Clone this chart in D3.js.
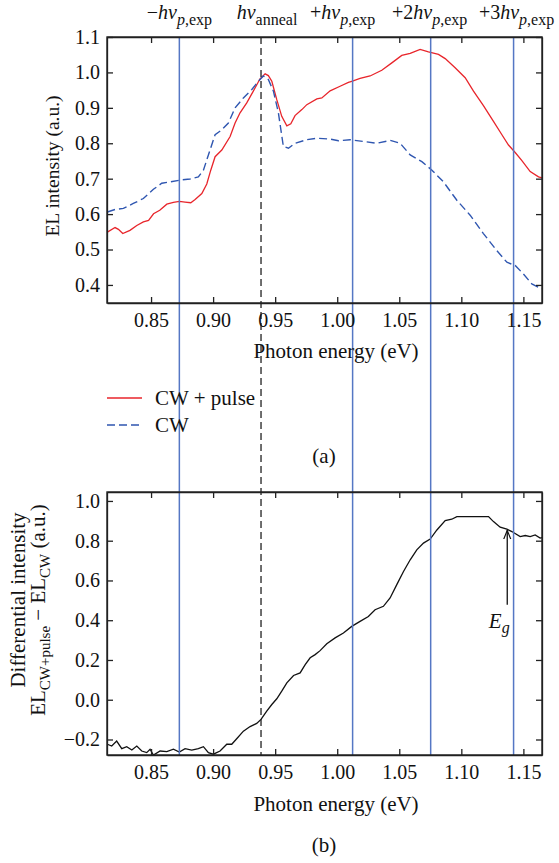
<!DOCTYPE html>
<html lang="en">
<head>
<meta charset="UTF-8">
<title>EL spectra</title>
<script src="https://d3js.org/d3.v7.min.js"></script>
<style>
  body { margin: 0; background: #fff; }
  svg text { font-family: "Liberation Serif", "DejaVu Serif", serif; fill: #111; }
  .axis path, .axis line { stroke: #222; stroke-width: 1.3px; }
  .axis text { font-size: 20px; font-family: "Liberation Serif", serif; fill: #111; }
</style>
</head>
<body>
<div id="chart"></div>
<script>
// photon energy (eV) and EL intensity
const pulseE = [0.8148, 0.821, 0.8237, 0.8272, 0.833, 0.8385, 0.8438, 0.848, 0.852, 0.857, 0.8627, 0.868, 0.8728, 0.8774, 0.882, 0.8855, 0.8909, 0.8949, 0.8981, 0.9016, 0.907, 0.9137, 0.9177, 0.9217, 0.9271, 0.9324, 0.9378, 0.9419, 0.9445, 0.9473, 0.9513, 0.9553, 0.9594, 0.9626, 0.966, 0.9715, 0.9755, 0.9836, 0.9876, 0.9943, 1.0023, 1.009, 1.0117, 1.0184, 1.0265, 1.0359, 1.044, 1.052, 1.0588, 1.0668, 1.0735, 1.0816, 1.087, 1.095, 1.1031, 1.1098, 1.1178, 1.1259, 1.1327, 1.138, 1.1434, 1.1488, 1.1555, 1.1622, 1.165];
const pulseI = [0.549, 0.562, 0.557, 0.545, 0.554, 0.568, 0.578, 0.582, 0.601, 0.611, 0.628, 0.633, 0.636, 0.634, 0.632, 0.641, 0.658, 0.685, 0.724, 0.762, 0.781, 0.819, 0.857, 0.886, 0.914, 0.947, 0.982, 0.996, 0.991, 0.975, 0.923, 0.876, 0.849, 0.855, 0.878, 0.895, 0.909, 0.925, 0.928, 0.948, 0.961, 0.972, 0.975, 0.983, 0.990, 1.006, 1.027, 1.048, 1.054, 1.065, 1.058, 1.051, 1.039, 1.013, 0.985, 0.947, 0.906, 0.862, 0.824, 0.795, 0.774, 0.751, 0.720, 0.705, 0.702];

const cwE = [0.8148, 0.821, 0.8277, 0.8357, 0.8438, 0.8519, 0.8586, 0.8653, 0.8734, 0.8814, 0.8881, 0.8922, 0.8962, 0.9016, 0.907, 0.9123, 0.9177, 0.9244, 0.9312, 0.9365, 0.9405, 0.9445, 0.9486, 0.9526, 0.9566, 0.9607, 0.966, 0.9755, 0.9836, 0.9943, 1.001, 1.0104, 1.0212, 1.032, 1.0427, 1.0507, 1.0588, 1.0682, 1.0763, 1.0856, 1.0964, 1.1071, 1.1178, 1.1286, 1.1367, 1.1434, 1.15, 1.1568, 1.1635, 1.165];
const cwI = [0.606, 0.613, 0.616, 0.630, 0.644, 0.670, 0.687, 0.691, 0.696, 0.699, 0.705, 0.724, 0.767, 0.824, 0.838, 0.857, 0.900, 0.928, 0.952, 0.975, 0.990, 0.980, 0.947, 0.886, 0.791, 0.786, 0.800, 0.810, 0.814, 0.812, 0.807, 0.810, 0.805, 0.800, 0.808, 0.800, 0.767, 0.748, 0.724, 0.691, 0.639, 0.597, 0.545, 0.497, 0.464, 0.455, 0.431, 0.403, 0.391, 0.390];

// differential intensity (b)
const diffE = [0.8148, 0.8183, 0.8223, 0.8264, 0.8304, 0.8345, 0.8385, 0.8425, 0.8465, 0.8492, 0.8519, 0.8573, 0.8627, 0.868, 0.8728, 0.8774, 0.8828, 0.8881, 0.8922, 0.8962, 0.9002, 0.9056, 0.911, 0.915, 0.919, 0.9244, 0.9298, 0.9351, 0.9386, 0.9432, 0.9473, 0.9513, 0.9553, 0.9594, 0.9648, 0.9701, 0.9742, 0.9782, 0.9822, 0.9862, 0.9916, 0.9983, 1.005, 1.0117, 1.0184, 1.0251, 1.0305, 1.0372, 1.0426, 1.048, 1.0534, 1.0588, 1.0641, 1.0695, 1.0749, 1.0803, 1.087, 1.0923, 1.0964, 1.1098, 1.1219, 1.1259, 1.1313, 1.1367, 1.1407, 1.1474, 1.1515, 1.1555, 1.1595, 1.1635, 1.165];
const diffI = [-0.224, -0.233, -0.208, -0.246, -0.236, -0.253, -0.233, -0.258, -0.266, -0.249, -0.278, -0.258, -0.261, -0.249, -0.263, -0.246, -0.253, -0.246, -0.236, -0.266, -0.274, -0.258, -0.224, -0.224, -0.196, -0.158, -0.135, -0.119, -0.099, -0.057, -0.024, 0.005, 0.043, 0.085, 0.122, 0.135, 0.177, 0.211, 0.227, 0.247, 0.282, 0.311, 0.336, 0.369, 0.394, 0.419, 0.453, 0.470, 0.512, 0.579, 0.645, 0.704, 0.754, 0.788, 0.808, 0.854, 0.901, 0.908, 0.921, 0.921, 0.921, 0.896, 0.868, 0.858, 0.846, 0.821, 0.826, 0.821, 0.829, 0.813, 0.815];

const xTicks = [0.85, 0.90, 0.95, 1.00, 1.05, 1.10, 1.15];
const yTicksA = [0.4, 0.5, 0.6, 0.7, 0.8, 0.9, 1.0, 1.1];
const yTicksB = [-0.2, 0.0, 0.2, 0.4, 0.6, 0.8, 1.0];

// marker lines: -hv, +hv, +2hv, +3hv and the anneal energy
const pumpLines = [0.8728, 1.0124, 1.0753, 1.1421];
const annealLine = 0.9386;
const egArrow = { e: 1.137, from: 0.478, to: 0.852 };

const W = 559, H = 863;
const left = 107, right = 542;
const topA = 37, botA = 303, topB = 492, botB = 755;

const svg = d3.select("#chart").append("svg")
    .attr("width", W).attr("height", H);

const x = d3.scaleLinear().domain([0.8145, 1.165]).range([left, right]);
const yA = d3.scaleLinear().domain([0.349, 1.1]).range([botA, topA]);
const yB = d3.scaleLinear().domain([-0.278, 1.045]).range([botB, topB]);

function frame(y, top, bot, ticks) {
    svg.append("g").attr("class", "axis")
        .attr("transform", `translate(0,${bot})`)
        .call(d3.axisBottom(x).tickValues(xTicks).tickFormat(d3.format(".2f"))
            .tickSizeInner(-6).tickSizeOuter(0).tickPadding(10));
    svg.append("g").attr("class", "axis")
        .attr("transform", `translate(0,${top})`)
        .call(d3.axisTop(x).tickValues(xTicks).tickFormat("")
            .tickSizeInner(-6).tickSizeOuter(0));
    svg.append("g").attr("class", "axis")
        .attr("transform", `translate(${left},0)`)
        .call(d3.axisLeft(y).tickValues(ticks).tickFormat(d3.format(".1f"))
            .tickSizeInner(-6).tickSizeOuter(0).tickPadding(7));
    svg.append("g").attr("class", "axis")
        .attr("transform", `translate(${right},0)`)
        .call(d3.axisRight(y).tickValues(ticks).tickFormat("")
            .tickSizeInner(-6).tickSizeOuter(0));
    svg.append("rect")
        .attr("x", left).attr("y", top)
        .attr("width", right - left).attr("height", bot - top)
        .attr("fill", "none").attr("stroke", "#222").attr("stroke-width", 1.4);
}

function curve(es, vs, y, color, dash, w) {
    const line = d3.line().x(d => x(d[0])).y(d => y(d[1]));
    svg.append("path")
        .datum(es.map((e, i) => [e, vs[i]]))
        .attr("d", line)
        .attr("fill", "none")
        .attr("stroke", color)
        .attr("stroke-width", w)
        .attr("stroke-dasharray", dash);
}

// curves first, then vertical markers running through both panels
curve(pulseE, pulseI, yA, "#e8252b", null, 1.3);
curve(cwE, cwI, yA, "#2f56b0", "8,4", 1.4);
curve(diffE, diffI, yB, "#111", null, 1.3);

svg.selectAll(".pump")
    .data(pumpLines)
    .enter().append("line")
    .attr("class", "pump")
    .attr("x1", d => x(d)).attr("x2", d => x(d))
    .attr("y1", topA).attr("y2", botB)
    .attr("stroke", "#5577c4").attr("stroke-width", 1.5);

svg.append("line")
    .attr("x1", x(annealLine)).attr("x2", x(annealLine))
    .attr("y1", topA).attr("y2", botB)
    .attr("stroke", "#222").attr("stroke-width", 1.3)
    .attr("stroke-dasharray", "7,4");

frame(yA, topA, botA, yTicksA);
frame(yB, topB, botB, yTicksB);

// top labels
const topLabels = [
    { e: pumpLines[0], pre: "\u2212", n: "", sub: "p" , dx: 0 },
    { e: annealLine, pre: "", n: "", sub: "anneal", dx: 6 },
    { e: pumpLines[1], pre: "+", n: "", sub: "p", dx: -10 },
    { e: pumpLines[2], pre: "+", n: "2", sub: "p", dx: -1 },
    { e: pumpLines[3], pre: "+", n: "3", sub: "p", dx: 3 }
];
topLabels.forEach(l => {
    const t = svg.append("text")
        .attr("x", x(l.e) + l.dx).attr("y", 19)
        .attr("text-anchor", "middle")
        .style("font-size", "20px");
    if (l.pre) t.append("tspan").text(l.pre);
    if (l.n) t.append("tspan").text(l.n);
    t.append("tspan").style("font-style", "italic").text("h\u03bd");
    if (l.sub === "anneal") {
        t.append("tspan").attr("dy", 6).style("font-size", "16px").text("anneal");
    } else {
        t.append("tspan").attr("dy", 6).style("font-size", "16px").style("font-style", "italic").text("p");
        t.append("tspan").style("font-size", "16px").text(",exp");
    }
});

// axis titles
function xTitle(yb) {
    svg.append("text")
        .attr("x", 336).attr("y", yb)
        .attr("text-anchor", "middle")
        .style("font-size", "21px")
        .text("Photon energy (eV)");
}
xTitle(358);
xTitle(811);

svg.append("text")
    .attr("transform", "translate(59,166) rotate(-90)")
    .attr("text-anchor", "middle")
    .style("font-size", "19.5px")
    .text("EL intensity (a.u.)");

svg.append("text")
    .attr("transform", "translate(25,600) rotate(-90)")
    .attr("text-anchor", "middle")
    .style("font-size", "21px")
    .text("Differential intensity");

const yl2 = svg.append("text")
    .attr("transform", "translate(45,610) rotate(-90)")
    .attr("text-anchor", "middle")
    .style("font-size", "21px");
yl2.append("tspan").text("EL");
yl2.append("tspan").attr("dy", 5).style("font-size", "15px").text("CW+pulse");
yl2.append("tspan").attr("dy", -5).text(" \u2212 EL");
yl2.append("tspan").attr("dy", 5).style("font-size", "15px").text("CW");
yl2.append("tspan").attr("dy", -5).text(" (a.u.)");

// legend
const legend = [
    { name: "CW + pulse", color: "#e8252b", dash: null, y: 398 },
    { name: "CW", color: "#2f56b0", dash: "8,4", y: 425 }
];
legend.forEach(l => {
    svg.append("line")
        .attr("x1", 107).attr("x2", 142)
        .attr("y1", l.y).attr("y2", l.y)
        .attr("stroke", l.color).attr("stroke-width", 1.4)
        .attr("stroke-dasharray", l.dash);
    svg.append("text")
        .attr("x", 155).attr("y", l.y + 7)
        .style("font-size", "21px")
        .text(l.name);
});

svg.append("text").attr("x", 324).attr("y", 463)
    .attr("text-anchor", "middle").style("font-size", "21px").text("(a)");
svg.append("text").attr("x", 324).attr("y", 852)
    .attr("text-anchor", "middle").style("font-size", "21px").text("(b)");

// Eg arrow
svg.append("defs").append("marker")
    .attr("id", "arr").attr("viewBox", "0 0 10 10")
    .attr("refX", 10).attr("refY", 5)
    .attr("markerWidth", 7).attr("markerHeight", 9)
    .attr("orient", "auto")
    .append("path").attr("d", "M0,1 L10,5 L0,9").attr("fill", "none")
    .attr("stroke", "#111").attr("stroke-width", 1.3);

svg.append("line")
    .attr("x1", x(egArrow.e)).attr("x2", x(egArrow.e))
    .attr("y1", yB(egArrow.from)).attr("y2", yB(egArrow.to))
    .attr("stroke", "#111").attr("stroke-width", 1.3)
    .attr("marker-end", "url(#arr)");

const eg = svg.append("text")
    .attr("x", x(egArrow.e) - 8).attr("y", yB(egArrow.from) + 23)
    .attr("text-anchor", "middle")
    .style("font-size", "21px").style("font-style", "italic");
eg.append("tspan").text("E");
eg.append("tspan").attr("dy", 5).style("font-size", "16px").text("g");
</script>
</body>
</html>
